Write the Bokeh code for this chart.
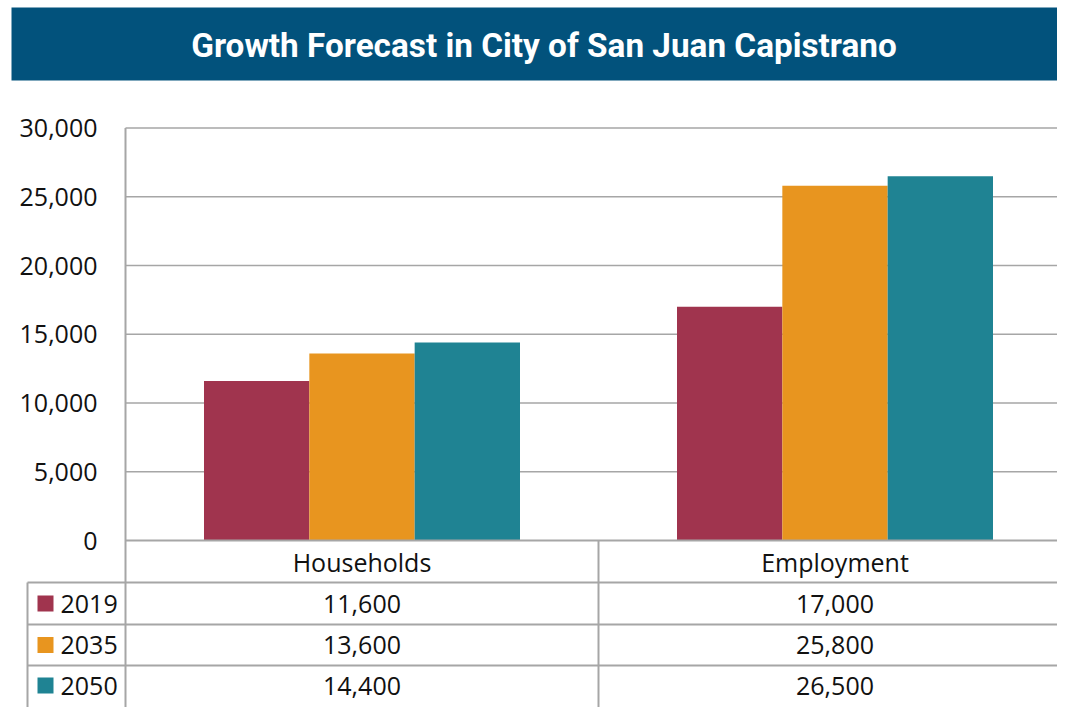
from bokeh.plotting import figure
from bokeh.models import Range1d
from bokeh.core.properties import value
from bokeh.embed import file_html
from bokeh.resources import INLINE

# ---- data ----
categories = ["Households", "Employment"]
series_names = ["2019", "2035", "2050"]
values_2019 = [11600, 17000]
values_2035 = [13600, 25800]
values_2050 = [14400, 26500]
series_colors = ["#A0344E", "#E8951F", "#1F8393"]
y_ticks = [0, 5000, 10000, 15000, 20000, 25000, 30000]
y_tick_labels = ["0", "5,000", "10,000", "15,000", "20,000", "25,000", "30,000"]
title_text = "Growth Forecast in City of San Juan Capistrano"

series_values = [values_2019, values_2035, values_2050]

# ---- layout constants (image pixels) ----
W, H = 1057, 707
PLOT_L, PLOT_R = 125, 1065
Y0_PX, YTOP_PX = 540, 127.5
CAT_W = 473.0
ppu = (Y0_PX - YTOP_PX) / 30000.0
FONT = value("Open Sans")
FS = "25px"
TXT = "#111111"
GRID = "#A6A6A6"

x_range = Range1d((0 - PLOT_L) / CAT_W, (W - PLOT_L) / CAT_W)
y_range = Range1d(-(H - Y0_PX) / ppu, Y0_PX / ppu)

p = figure(width=W, height=H, x_range=x_range, y_range=y_range,
           output_backend="svg", toolbar_location=None,
           x_axis_type=None, y_axis_type=None,
           min_border=0, min_border_left=0, min_border_right=0,
           min_border_top=0, min_border_bottom=0)
p.outline_line_color = None
p.grid.visible = False
p.background_fill_color = "white"
p.border_fill_color = "white"
p.extra_x_ranges = {"px": Range1d(0, W)}
p.extra_y_ranges = {"px": Range1d(H, 0)}

# ---- banner ----
p.quad(left=11, right=1065, top=7, bottom=80, fill_color="#02527C",
       line_color=None, x_range_name="px", y_range_name="px")
p.text(x=[543.5], y=[45], text=[title_text], text_color="white",
       text_font=value("Roboto"), text_font_style="bold",
       text_font_size="33.3px", text_align="center", text_baseline="middle",
       x_range_name="px", y_range_name="px")

# ---- gridlines ----
grid_vals = [t for t in y_ticks if t > 0]
p.segment(x0=PLOT_L, x1=PLOT_R, y0=grid_vals, y1=grid_vals,
          line_color=GRID, line_width=1.5, x_range_name="px")

# ---- bars ----
group_w = 316.0 / CAT_W
bar_w = group_w / 3
for j, (vals, col) in enumerate(zip(series_values, series_colors)):
    xs = [i + 0.5 + (j - 1) * bar_w for i in range(len(categories))]
    p.vbar(x=xs, top=vals, bottom=0, width=bar_w, fill_color=col,
           line_color=None)

# ---- y tick labels ----
p.text(x=[97] * len(y_ticks), y=y_ticks, text=y_tick_labels,
       text_font=FONT, text_font_size=FS, text_color=TXT,
       text_align="right", text_baseline="middle", x_range_name="px")

# ---- table lines ----
p.segment(x0=[PLOT_L], x1=[PLOT_R], y0=[Y0_PX], y1=[Y0_PX],
          line_color=GRID, line_width=2, x_range_name="px", y_range_name="px")
row_lines = [582, 624, 665]
p.segment(x0=[27] * 3, x1=[PLOT_R] * 3, y0=row_lines, y1=row_lines,
          line_color=GRID, line_width=2, x_range_name="px", y_range_name="px")
p.segment(x0=[PLOT_L, 598, 27], x1=[PLOT_L, 598, 27],
          y0=[YTOP_PX, Y0_PX, 582], y1=[715, 715, 715],
          line_color=GRID, line_width=2, x_range_name="px", y_range_name="px")

# ---- category labels ----
cat_x = [i + 0.5 for i in range(len(categories))]
p.text(x=cat_x, y=[561] * len(categories), text=categories,
       text_font=FONT, text_font_size=FS, text_color=TXT,
       text_align="center", text_baseline="middle", y_range_name="px")

# ---- table rows ----
row_y = [603, 644.5, 685]
for j, (name, vals, col) in enumerate(zip(series_names, series_values, series_colors)):
    p.text(x=cat_x, y=[row_y[j]] * len(vals), text=[f"{v:,}" for v in vals],
           text_font=FONT, text_font_size=FS, text_color=TXT,
           text_align="center", text_baseline="middle", y_range_name="px")
    p.scatter(x=[45], y=[row_y[j]], marker="square", size=16,
              fill_color=col, line_color=None,
              x_range_name="px", y_range_name="px")
    p.text(x=[60], y=[row_y[j]], text=[name], text_font=FONT,
           text_font_size=FS, text_color=TXT,
           text_align="left", text_baseline="middle",
           x_range_name="px", y_range_name="px")

open("out.html", "w").write(file_html(p, INLINE))
